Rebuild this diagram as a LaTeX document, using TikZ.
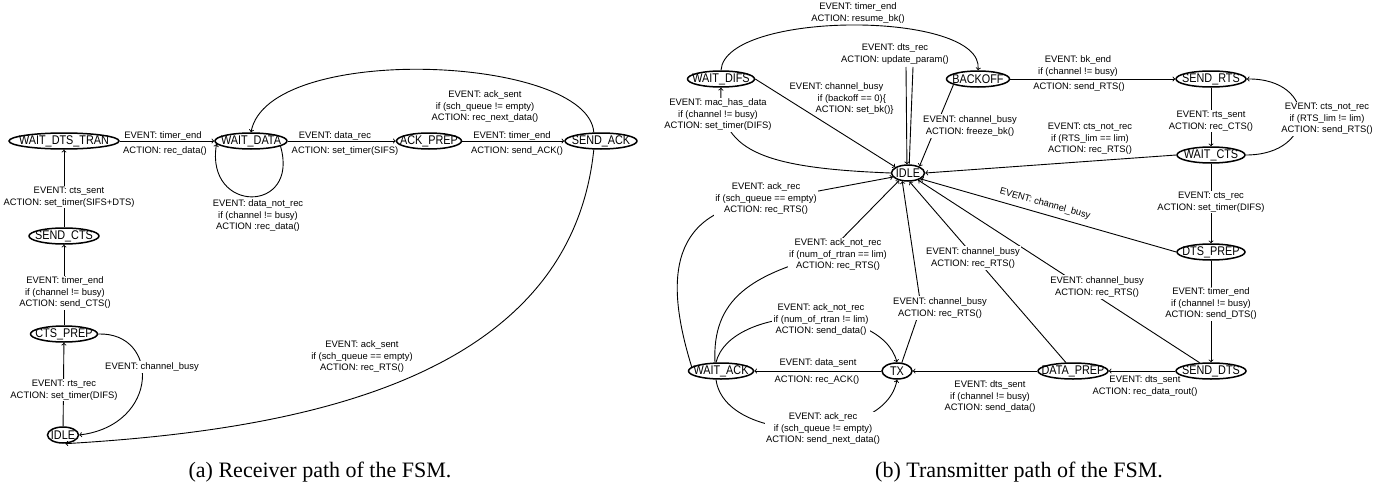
\documentclass[tikz,border=0pt]{standalone}
\usepackage{fontspec}
\setmainfont{Liberation Serif}
\setsansfont{Liberation Sans}
\newfontfamily\statefont[FakeStretch=0.86]{Liberation Sans}
\usepackage{tikz}
\usetikzlibrary{shapes.geometric}

\tikzset{
	state/.style = {ellipse, draw, line width=1.5pt, inner sep=-30pt, minimum height=16pt, font=\statefont\fontsize{12.6}{13}\selectfont},
	lbl/.style = {font=\sffamily\fontsize{9.4}{11.5}\selectfont, align=center, inner sep=1.5pt},
	cut/.style = {lbl, fill=white},
	tr/.style = {line width=0.9pt, ->},
}

\begin{document}
\begin{tikzpicture}[x=1pt, y=-1pt]
	\useasboundingbox (0,0) rectangle (1396,487);
	
	\node [state, minimum width=110pt] (rWaitDts) at (64,141) {WAIT\_DTS\_TRAN};
	\node [state, minimum width=72pt] (rWaitData) at (251,141) {WAIT\_DATA};
	\node [state, minimum width=65pt] (rAckPrep) at (429,141) {ACK\_PREP};
	\node [state, minimum width=72pt] (rSendAck) at (601,141) {SEND\_ACK};
	\node [state, minimum width=70pt] (rSendCts) at (64,236) {SEND\_CTS};
	\node [state, minimum width=67pt] (rCtsPrep) at (64,334) {CTS\_PREP};
	\node [state, minimum width=31pt] (rIdle) at (63,435) {IDLE};
	
	\draw [tr] (rWaitDts) -- (rWaitData);
	\draw [tr] (rWaitData) -- (rAckPrep);
	\draw [tr] (rAckPrep) -- (rSendAck);
	\draw [tr] (rSendAck.130) .. controls (588,55) and (268,42) .. (rWaitData.north);
	\draw [tr] (rWaitData.-10) .. controls (300,214) and (205,214) .. (rWaitData.185);
	\draw [tr] (rSendCts) -- (rWaitDts);
	\draw [tr] (rCtsPrep) -- (rSendCts);
	\draw [tr] (rIdle) -- (rCtsPrep);
	\draw [tr] (rCtsPrep.east) .. controls (160,332) and (160,425) .. (rIdle.east);
	\draw [tr] (rSendAck.-130) .. controls (570,380) and (300,430) .. (rIdle.-75);
	
	\node [lbl] (lTimerEndA) at (163,136) {EVENT: timer\_end};
	\node [lbl] (lRecDataA) at (165,151) {ACTION: rec\_data()};
	\node [lbl] (lDataRec) at (335,136) {EVENT: data\_rec};
	\node [lbl] (lSetSifs) at (345,151) {ACTION: set\_timer(SIFS)};
	\node [lbl] (lTimerEndB) at (512,136) {EVENT: timer\_end};
	\node [lbl] (lSendAck) at (517,151) {ACTION: send\_ACK()};
	\node [lbl] (lAckSentNe) at (485,107) {EVENT: ack\_sent\\if (sch\_queue != empty)\\ACTION: rec\_next\_data()};
	\node [lbl] (lDataNotRec) at (258,216) {EVENT: data\_not\_rec\\if (channel != busy)\\ACTION :rec\_data()};
	\node [cut] (lCtsSent) at (69,197) {EVENT: cts\_sent\\ACTION: set\_timer(SIFS+DTS)};
	\node [cut] (lTimerEndC) at (65,293) {EVENT: timer\_end\\if (channel != busy)\\ACTION: send\_CTS()};
	\node [cut] (lRtsRec) at (64,390) {EVENT: rts\_rec\\ACTION: set\_timer(DIFS)};
	\node [cut] (lBusyA) at (152,367) {EVENT: channel\_busy};
	\node [lbl] (lAckSentE) at (362,357) {EVENT: ack\_sent\\if (sch\_queue == empty)\\ACTION: rec\_RTS()};
	
	\node [state, minimum width=67pt] (tWaitDifs) at (721,79) {WAIT\_DIFS};
	\node [state, minimum width=63pt] (tBackoff) at (978,79) {BACKOFF};
	\node [state, minimum width=70pt] (tSendRts) at (1211,79) {SEND\_RTS};
	\node [state, minimum width=68pt] (tWaitCts) at (1211,155) {WAIT\_CTS};
	\node [state, minimum width=68pt] (tDtsPrep) at (1211,252) {DTS\_PREP};
	\node [state, minimum width=70pt] (tSendDts) at (1211,371) {SEND\_DTS};
	\node [state, minimum width=70pt] (tDataPrep) at (1073,371) {DATA\_PREP};
	\node [state, minimum width=30pt] (tTx) at (897,371) {TX};
	\node [state, minimum width=65pt] (tWaitAck) at (721,371) {WAIT\_ACK};
	\node [state, minimum width=33pt] (tIdle) at (908,173) {IDLE};
	
	\coordinate (cDtsRecA) at (906,67);
	\coordinate (cDtsRecB) at (913,67);
	\coordinate (cTxBusy) at (921,307);
	\coordinate (cAckNotRec) at (826,255);
	\coordinate (cAckRec) at (765,201);
	
	\draw [tr] (tWaitDifs.north) .. controls (725,10) and (985,10) .. (tBackoff.north);
	\draw [tr] (cDtsRecA) -- (tIdle.97);
	\draw [line width=0.9pt] (cDtsRecB) -- (tIdle.82);
	\draw [tr] (tWaitDifs.east) -- (tIdle.155);
	\draw [tr] (tIdle.west) .. controls (760,168) and (718,150) .. (tWaitDifs.south);
	\draw [tr] (tBackoff.193) -- (tIdle.30);
	\draw [tr] (tBackoff) -- (tSendRts);
	\draw [tr] (tSendRts) -- (tWaitCts);
	\draw [tr] (tWaitCts.east) .. controls (1318,155) and (1318,78) .. (tSendRts.east);
	\draw [tr] (tWaitCts.west) -- (tIdle.east);
	\draw [tr] (tWaitCts) -- (tDtsPrep);
	\draw [tr] (tDtsPrep.west) -- (tIdle.-25);
	\draw [tr] (tDtsPrep) -- (tSendDts);
	\draw [tr] (tSendDts.144) -- (tIdle.-35);
	\draw [tr] (tDataPrep.130) -- (tIdle.-80);
	\draw [tr] (tTx.60) -- (cTxBusy) -- (tIdle.-125);
	\draw [tr] (tWaitAck.125) .. controls (712,300) and (750,275) .. (cAckNotRec) -- (tIdle.-140);
	\draw [tr] (tWaitAck.172) .. controls (668,290) and (662,210) .. (cAckRec) -- (tIdle.195);
	\draw [tr] (tWaitAck.120) .. controls (730,305) and (880,300) .. (tTx.north);
	\draw [tr] (tWaitAck.-120) .. controls (725,445) and (885,445) .. (tTx.south);
	\draw [tr] (tTx) -- (tWaitAck);
	\draw [tr] (tDataPrep) -- (tTx);
	\draw [tr] (tSendDts) -- (tDataPrep);
	
	\node [lbl] (lTimerEndD) at (858,13) {EVENT: timer\_end\\ACTION: resume\_bk()};
	\node [lbl] (lDtsRec) at (895,54) {EVENT: dts\_rec\\ACTION: update\_param()};
	\node [lbl, align=left, anchor=west] (lBusyB) at (788,99) {EVENT: channel\_busy\\\hspace*{28pt}if (backoff == 0)\{\\\hspace*{26pt}ACTION: set\_bk()\}};
	\node [cut] (lMacData) at (718,115) {EVENT: mac\_has\_data\\if (channel != busy)\\ACTION: set\_timer(DIFS)};
	\node [cut] (lFreeze) at (970,126) {EVENT: channel\_busy\\ACTION: freeze\_bk()};
	\node [lbl] (lBkEnd) at (1078,66) {EVENT: bk\_end\\if (channel != busy)};
	\node [lbl] (lSendRtsA) at (1079,87) {ACTION: send\_RTS()};
	\node [cut] (lRtsSent) at (1211,121) {EVENT: rts\_sent\\ACTION: rec\_CTS()};
	\node [cut] (lCtsNotRecA) at (1327,119) {EVENT: cts\_not\_rec\\if (RTS\_lim != lim)\\ACTION: send\_RTS()};
	\node [lbl] (lCtsNotRecB) at (1090,139) {EVENT: cts\_not\_rec\\if (RTS\_lim == lim)\\ACTION: rec\_RTS()};
	\node [cut] (lCtsRec) at (1211,202) {EVENT: cts\_rec\\ACTION: set\_timer(DIFS)};
	\node [lbl, rotate=-15.6] (lBusyC) at (1045,204) {EVENT: channel\_busy};
	\node [cut] (lTimerEndE) at (1211,304) {EVENT: timer\_end\\if (channel != busy)\\ACTION: send\_DTS()};
	\node [cut] (lBusyD) at (1097,287) {EVENT: channel\_busy\\ACTION: rec\_RTS()};
	\node [cut] (lBusyE) at (973,258) {EVENT: channel\_busy\\ACTION: rec\_RTS()};
	\node [cut] (lBusyF) at (940,308) {EVENT: channel\_busy\\ACTION: rec\_RTS()};
	\node [cut] (lAckRecA) at (766,199) {EVENT: ack\_rec\\if (sch\_queue == empty)\\ACTION: rec\_RTS()};
	\node [cut] (lAckNotRecA) at (838,255) {EVENT: ack\_not\_rec\\if (num\_of\_rtran == lim)\\ACTION: rec\_RTS()};
	\node [cut] (lAckNotRecB) at (821,320) {EVENT: ack\_not\_rec\\if (num\_of\_rtran != lim)\\ACTION: send\_data()};
	\node [lbl] (lDataSent) at (818,363) {EVENT: data\_sent};
	\node [lbl] (lRecAck) at (817,380) {ACTION: rec\_ACK()};
	\node [cut] (lAckRecB) at (823,429) {EVENT: ack\_rec\\if (sch\_queue != empty)\\ACTION: send\_next\_data()};
	\node [lbl] (lDtsSentA) at (990,397) {EVENT: dts\_sent\\if (channel != busy)\\ACTION: send\_data()};
	\node [lbl] (lDtsSentB) at (1145,386) {EVENT: dts\_sent\\ACTION: rec\_data\_rout()};
	
	\node [font=\fontsize{22}{24}\selectfont, anchor=base] (capA) at (320,477) {(a) Receiver path of the FSM.};
	\node [font=\fontsize{22}{24}\selectfont, anchor=base] (capB) at (1019,477) {(b) Transmitter path of the FSM.};
\end{tikzpicture}
\end{document}
